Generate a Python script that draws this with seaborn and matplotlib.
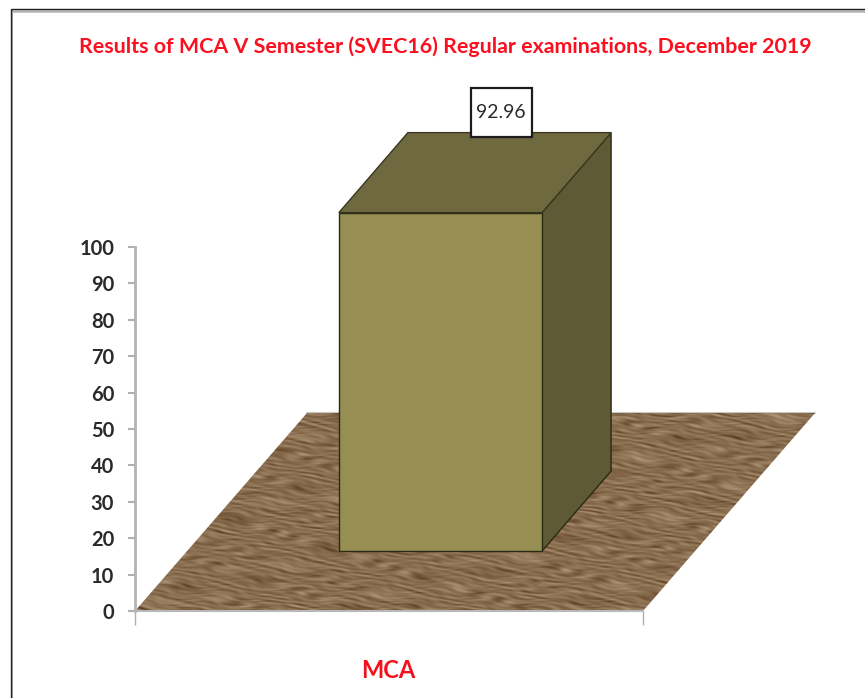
import numpy as np
import pandas as pd
import matplotlib
matplotlib.use('Agg')
import matplotlib.pyplot as plt
import seaborn as sns
from matplotlib.patches import Polygon, Rectangle

categories = ['MCA']
pass_pct = [92.96]
y_ticks = [0, 10, 20, 30, 40, 50, 60, 70, 80, 90, 100]
title_text = 'Results of MCA V Semester (SVEC16) Regular examinations, December 2019'

sns.set_style('white')
plt.rcParams['font.family'] = ['Lato', 'DejaVu Sans']

W, H = 865, 698
fig = plt.figure(figsize=(W / 100, H / 100), dpi=100)
# axes box in pixels: x 135-643, y 611 (0) up to 247 (100)
ax = fig.add_axes([135 / W, (H - 611) / H, 508 / W, 364 / H])

df = pd.DataFrame({'program': categories, 'pct': pass_pct})
sns.barplot(data=df, x='program', y='pct', width=0.4, color='#978e54', saturation=1,
            edgecolor='#2b2a14', linewidth=1, ax=ax, zorder=5)

# fake 3d: depth offsets in data units
front_dx, front_dy = 51.5 / 508, 60 / 3.64
bar_dx, bar_dy = 69 / 508, 80 / 3.64
floor_dx, floor_dy = 172 / 508, 198 / 3.64

# floor with a wood-like texture made from sines
floor_pts = [(-0.5, 0), (0.5, 0), (0.5 + floor_dx, floor_dy), (-0.5 + floor_dx, floor_dy)]
yy, xx = np.mgrid[0:200, 0:690]
rise = yy + 0.09 * xx
wave = (np.sin(rise * 0.85 + 3.1 * np.sin(xx * 0.071 + yy * 0.23) + 2.3 * np.sin(xx * 0.029 - yy * 0.097))
        * (0.6 + 0.4 * np.sin(xx * 0.113 + yy * 0.37))
        + 0.6 * np.sin(rise * 1.37 + 3.7 * np.sin(xx * 0.089 - yy * 0.17))
        * np.sin(xx * 0.053 + yy * 0.47)
        + 0.35 * np.sin(xx * 0.31 + yy * 1.03) * np.sin(xx * 0.019 + yy * 0.27))
wave = (wave - wave.min()) / (wave.max() - wave.min())
wood = sns.blend_palette(['#56391f', '#76583b', '#8a6e50', '#9d8264', '#b39a7b'], as_cmap=True)
img = ax.imshow(wave, cmap=wood, extent=(-0.5, 0.5 + floor_dx, 0, floor_dy), aspect='auto',
                origin='lower', interpolation='bilinear', zorder=1)
img.set_clip_box(fig.bbox)
img.set_clip_path(Polygon(floor_pts, closed=True, transform=ax.transData))
ax.set_xlim(-0.5, 0.5)
ax.set_ylim(0, 100)
ax.plot([-0.5 + floor_dx, 0.5 + floor_dx], [floor_dy, floor_dy], color='#c8c8c8', lw=1.5,
        clip_on=False, zorder=0.5)

# shift the front of the bar and add top and side faces
bar = ax.patches[0]
x0 = bar.get_x() + front_dx
x1 = x0 + bar.get_width()
y0 = front_dy
y1 = front_dy + bar.get_height()
bar.set_x(x0)
bar.set_y(y0)
bar.set_clip_on(False)
side = Polygon([(x1, y0), (x1 + bar_dx, y0 + bar_dy), (x1 + bar_dx, y1 + bar_dy), (x1, y1)],
               closed=True, facecolor='#5e5a36', edgecolor='#2b2a14', lw=1, clip_on=False, zorder=4)
top = Polygon([(x0, y1), (x1, y1), (x1 + bar_dx, y1 + bar_dy), (x0 + bar_dx, y1 + bar_dy)],
              closed=True, facecolor='#6f6940', edgecolor='#3a3820', lw=1, clip_on=False, zorder=4)
ax.add_patch(side)
ax.add_patch(top)

# value label box
fig.add_artist(Rectangle((471 / W, 1 - 137 / H), 61 / W, 49 / H, transform=fig.transFigure,
                         facecolor='white', edgecolor='#1c1c1c', lw=1.6, zorder=6))
fig.text(501 / W, 1 - 113 / H, f'{pass_pct[0]:.2f}', ha='center', va='center', fontsize=14,
         color='#2a2a2a', zorder=7)

# axes
sns.despine(ax=ax, top=True, right=True)
ax.spines['left'].set_color('#b4b4b4')
ax.spines['left'].set_linewidth(2)
ax.spines['bottom'].set_color('#b8b8b8')
ax.spines['bottom'].set_linewidth(1.5)
ax.set_yticks(y_ticks)
ax.set_yticklabels([str(v) for v in y_ticks], fontsize=14.5, fontweight='bold', color='#2a2a2a')
ax.tick_params(axis='y', left=True, length=5, width=1.5, color='#b0b0b0', pad=10)
ax.set_xticks([-0.5, 0.5])
ax.set_xticklabels(['', ''])
ax.tick_params(axis='x', bottom=True, length=10, width=1, color='#b0b0b0')
ax.set_xlabel('')
ax.set_ylabel('')

fig.text(388 / W, 1 - 671 / H, categories[0], color='#f5101c', fontsize=17, fontweight='bold',
         ha='center', va='center')
fig.text(445 / W, 1 - 47 / H, title_text, color='#fb1020', fontsize=15.4, fontweight='bold',
         ha='center', va='center')

# frame of the pasted chart: top and left edges only
fig.add_artist(Rectangle((10.5 / W, -0.1), 1.5 * W, 1.1 - 9.5 / H, transform=fig.transFigure,
                         facecolor='none', edgecolor='#222222', lw=1, zorder=8))
fig.add_artist(plt.Line2D([12 / W, 1], [1 - 10.5 / H, 1 - 10.5 / H], color='#b4b4b4', lw=1.8))
fig.add_artist(plt.Line2D([12 / W, 12 / W], [0, 1 - 10 / H], color='#a0a0a0', lw=1.2))

fig.savefig('out.png', dpi=100)
